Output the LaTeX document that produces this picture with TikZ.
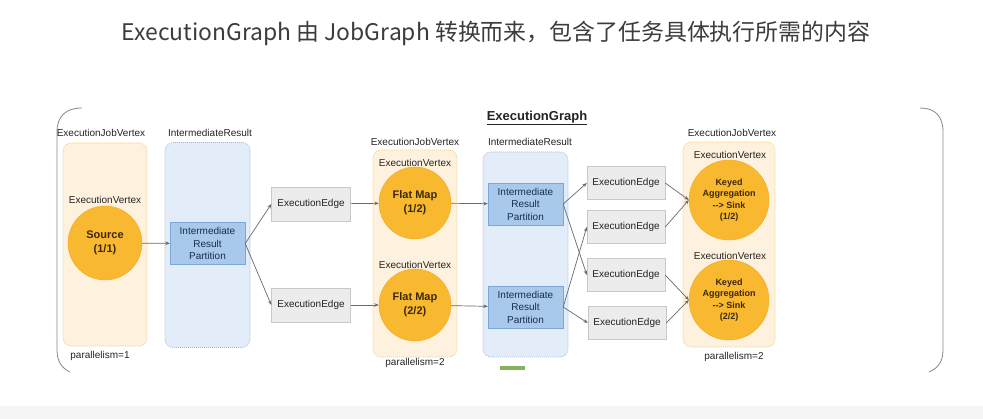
\documentclass[tikz,border=0pt]{standalone}
\usepackage{fontspec}
\setmainfont{Liberation Sans}
\newfontfamily\cjkfont{Noto Sans CJK SC}
\usetikzlibrary{arrows.meta}

\begin{document}
\begin{tikzpicture}[
    x=1pt, y=-1pt,
    font=\fontsize{10}{12}\selectfont,
    lbl/.style={inner sep=0pt, text=my-text},
    group/.style={
    	draw, rounded corners=8pt,
    	dash pattern=on 1pt off 1pt, line width=0.6pt
    }, vtx/.style={
    	circle, draw=my-orange2, fill=my-orange, inner sep=0pt,
    	align=center, text=my-brown,
    	font=\fontsize{11}{14}\selectfont\bfseries
    }, part/.style={
    	draw=my-blue3, fill=my-blue2, minimum width=75pt, minimum height=42pt,
    	inner sep=0pt, align=center, text=my-navy,
    	font=\fontsize{10}{12.5}\selectfont
    }, edgebox/.style={
    	draw=my-gray2, fill=my-gray, minimum width=78pt, minimum height=33pt,
    	inner sep=0pt, text=my-text
    }, pil/.style={
    	-{Stealth[length=4.5pt, width=3.5pt]},
    	draw=my-line, line width=0.7pt
    }]
    \definecolor{my-text}{RGB}{35, 35, 35}
    \definecolor{my-title}{RGB}{60, 60, 60}
    \definecolor{my-peach}{RGB}{254, 242, 222}
    \definecolor{my-peach2}{RGB}{240, 200, 130}
    \definecolor{my-blue}{RGB}{227, 237, 250}
    \definecolor{my-blue1}{RGB}{160, 185, 222}
    \definecolor{my-blue2}{RGB}{168, 201, 236}
    \definecolor{my-blue3}{RGB}{125, 166, 214}
    \definecolor{my-navy}{RGB}{25, 45, 75}
    \definecolor{my-orange}{RGB}{248, 184, 48}
    \definecolor{my-orange2}{RGB}{240, 170, 40}
    \definecolor{my-brown}{RGB}{60, 40, 5}
    \definecolor{my-gray}{RGB}{236, 236, 236}
    \definecolor{my-gray2}{RGB}{200, 200, 200}
    \definecolor{my-line}{RGB}{105, 105, 105}
    \definecolor{my-green}{RGB}{132, 180, 90}
    \definecolor{my-floor}{RGB}{245, 245, 245}

    \useasboundingbox (0,0) rectangle (983,419);
    \fill[my-floor] (0,406) rectangle (983,419);

    \node[lbl, text=my-title, font=\cjkfont\fontsize{22.9}{26}\selectfont] (title) at (496,33)
        {ExecutionGraph 由 JobGraph 转换而来，包含了任务具体执行所需的内容};

    %%% frame
    \draw[my-line!80, line width=0.8pt] (82,108) .. controls (66,108) and (57,116) .. (57,132)
        -- (57,350) .. controls (57,362) and (62,368) .. (70,372);
    \draw[my-line!80, line width=0.8pt] (920,108) .. controls (935,108) and (943,116) .. (943,132)
        -- (943,350) .. controls (943,362) and (938,368) .. (929,372);
    \node[lbl, font=\fontsize{13}{15}\selectfont\bfseries] (graph) at (537,118) {\underline{ExecutionGraph}};

    %%% groups
    \node[group, draw=my-peach2, fill=my-peach, minimum width=84pt, minimum height=203pt] (jv1) at (105,244.5) {};
    \node[group, draw=my-blue1, fill=my-blue, minimum width=85pt, minimum height=205pt] (ir1) at (207.5,245) {};
    \node[group, draw=my-peach2, fill=my-peach, minimum width=84pt, minimum height=207pt] (jv2) at (415,253.5) {};
    \node[group, draw=my-blue1, fill=my-blue, minimum width=85pt, minimum height=205pt] (ir2) at (525.5,254.5) {};
    \node[group, draw=my-peach2, fill=my-peach, minimum width=92pt, minimum height=205pt] (jv3) at (729,244.5) {};

    \node[lbl] (jv1-name) at (101,133) {ExecutionJobVertex};
    \node[lbl] (ir1-name) at (210,133) {IntermediateResult};
    \node[lbl] (jv2-name) at (415,142) {ExecutionJobVertex};
    \node[lbl] (ir2-name) at (530,142) {IntermediateResult};
    \node[lbl] (jv3-name) at (732,133) {ExecutionJobVertex};

    \node[lbl] (par1) at (100,356) {parallelism=1};
    \node[lbl] (par2) at (415,363) {parallelism=2};
    \node[lbl] (par3) at (734,357) {parallelism=2};

    %%% vertices
    \node[lbl] (ev1) at (105,200) {ExecutionVertex};
    \node[lbl] (ev2) at (415,163) {ExecutionVertex};
    \node[lbl] (ev3) at (415,265) {ExecutionVertex};
    \node[lbl] (ev4) at (730,155) {ExecutionVertex};
    \node[lbl] (ev5) at (730,256) {ExecutionVertex};

    \node[vtx, minimum size=74pt] (src) at (105,243) {Source\\(1/1)};
    \node[vtx, minimum size=72pt] (fm1) at (415,203) {Flat Map\\(1/2)};
    \node[vtx, minimum size=72pt] (fm2) at (415,305) {Flat Map\\(2/2)};
    \node[vtx, minimum size=80pt, font=\fontsize{9}{11.5}\selectfont\bfseries] (sk1) at (729,200) {Keyed\\Aggregation\\{-}{-}> Sink\\(1/2)};
    \node[vtx, minimum size=80pt, font=\fontsize{9}{11.5}\selectfont\bfseries] (sk2) at (729,300) {Keyed\\Aggregation\\{-}{-}> Sink\\(2/2)};

    %%% partitions
    \node[part] (irp1) at (207.5,243.5) {Intermediate\\Result\\Partition};
    \node[part] (irp2) at (525.5,204) {Intermediate\\Result\\Partition};
    \node[part] (irp3) at (525.5,307) {Intermediate\\Result\\Partition};

    %%% edges boxes
    \node[edgebox, minimum width=79pt, minimum height=34pt] (ee1) at (311,204) {ExecutionEdge};
    \node[edgebox, minimum width=79pt, minimum height=34pt] (ee2) at (311,305) {ExecutionEdge};
    \node[edgebox] (ee3) at (626,183) {ExecutionEdge};
    \node[edgebox] (ee4) at (626,227) {ExecutionEdge};
    \node[edgebox] (ee5) at (626,275) {ExecutionEdge};
    \node[edgebox] (ee6) at (627,323) {ExecutionEdge};

    \fill[my-green] (500,366) rectangle (525,370);

    %%% EDGES
    \draw[pil] (src) -- (irp1);
    \draw[pil] (irp1.east) -- (ee1.west);
    \draw[pil] (irp1.east) -- (ee2.west);
    \draw[pil] (ee1) -- (fm1);
    \draw[pil] (ee2) -- (fm2);
    \draw[pil] (fm1) -- (irp2);
    \draw[pil] (fm2) -- (irp3);

    \draw[pil] (irp2.east) -- (ee3.west);
    \draw[pil] (irp2.east) -- (ee5.west);
    \draw[pil] (irp3.east) -- (ee4.west);
    \draw[pil] (irp3.east) -- (ee6.west);

    \draw[pil] (ee3.east) -- (sk1.west);
    \draw[pil] (ee4.east) -- (sk1.west);
    \draw[pil] (ee5.east) -- (sk2.west);
    \draw[pil] (ee6.east) -- (sk2.west);
    %%% EDGES

\end{tikzpicture}
\end{document}
